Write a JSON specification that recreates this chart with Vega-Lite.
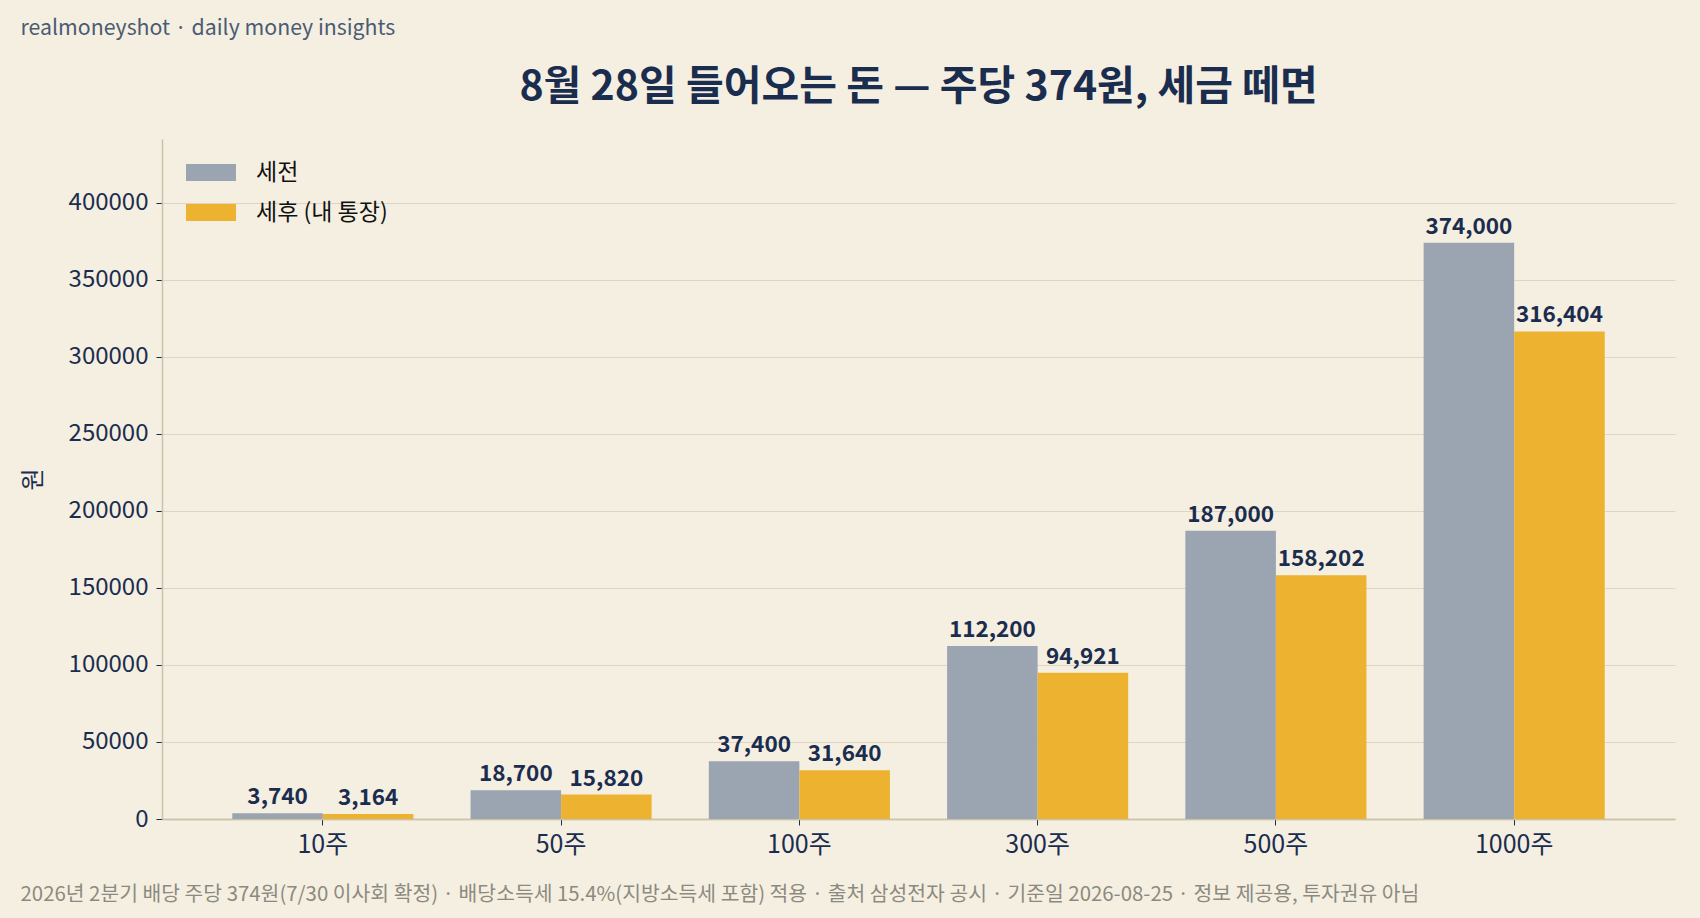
{
  "$schema": "https://vega.github.io/schema/vega-lite/v6.json",
  "autosize": {"type": "none"},
  "width": 1513,
  "height": 680,
  "padding": {"left": 162, "top": 139, "right": 25, "bottom": 99},
  "background": "#f5efe1",
  "config": {"font": "Noto Sans CJK KR", "view": {"stroke": null}},
  "title": {
    "text": "8월 28일 들어오는 돈 — 주당 374원, 세금 떼면",
    "fontSize": 41,
    "fontWeight": "bold",
    "color": "#1b2d4f",
    "anchor": "middle",
    "frame": "group",
    "offset": 0,
    "dy": 92
  },
  "data": {
    "values": [
      {"shares": "10주", "type": "세전", "amount": 3740},
      {"shares": "10주", "type": "세후 (내 통장)", "amount": 3164},
      {"shares": "50주", "type": "세전", "amount": 18700},
      {"shares": "50주", "type": "세후 (내 통장)", "amount": 15820},
      {"shares": "100주", "type": "세전", "amount": 37400},
      {"shares": "100주", "type": "세후 (내 통장)", "amount": 31640},
      {"shares": "300주", "type": "세전", "amount": 112200},
      {"shares": "300주", "type": "세후 (내 통장)", "amount": 94921},
      {"shares": "500주", "type": "세전", "amount": 187000},
      {"shares": "500주", "type": "세후 (내 통장)", "amount": 158202},
      {"shares": "1000주", "type": "세전", "amount": 374000},
      {"shares": "1000주", "type": "세후 (내 통장)", "amount": 316404}
    ]
  },
  "encoding": {
    "y": {
      "field": "amount",
      "type": "quantitative",
      "scale": {"domain": [0, 441320], "nice": false},
      "axis": {
        "title": "원",
        "titleFontSize": 24,
        "titleFontWeight": "normal",
        "titleColor": "#1b2d4f",
        "titleX": -129,
        "titleY": 340,
        "titleAlign": "center",
        "titleBaseline": "middle",
        "values": [0, 50000, 100000, 150000, 200000, 250000, 300000, 350000, 400000],
        "format": "d",
        "labelFontSize": 24,
        "labelColor": "#1b2d4f",
        "labelPadding": 8,
        "tickSize": 6,
        "tickColor": "#1b2d4f",
        "domainColor": "#cbc2ab",
        "domainWidth": 1.5,
        "grid": true,
        "gridColor": {"condition": {"test": "datum.value === 0", "value": "#cbc2ab"}, "value": "#ddd5c1"},
        "gridWidth": {"condition": {"test": "datum.value === 0", "value": 1.5}, "value": 1.2}
      }
    },
    "xOffset": {"field": "type", "type": "nominal", "sort": ["세전", "세후 (내 통장)"]}
  },
  "layer": [
    {
      "mark": {"type": "bar"},
      "encoding": {
        "x": {
          "field": "shares",
          "type": "nominal",
          "sort": ["10주", "50주", "100주", "300주", "500주", "1000주"],
          "scale": {"paddingInner": 0.24, "paddingOuter": 0.295},
          "axis": {
            "title": "2026년 2분기 배당 주당 374원(7/30 이사회 확정) · 배당소득세 15.4%(지방소득세 포함) 적용 · 출처 삼성전자 공시 · 기준일 2026-08-25 · 정보 제공용, 투자권유 아님",
            "titleFontSize": 20.4,
            "titleFontWeight": "normal",
            "titleColor": "#8c8a80",
            "titleAnchor": "start",
            "titleAlign": "left",
            "titleBaseline": "alphabetic",
            "titleX": -142,
            "titleY": 81,
            "labelAngle": 0,
            "labelFontSize": 25,
            "labelColor": "#1b2d4f",
            "labelPadding": 7,
            "tickSize": 6,
            "tickColor": "#1b2d4f",
            "domainColor": "#cbc2ab",
            "domainWidth": 1.5,
            "grid": false
          }
        },
        "color": {
          "field": "type",
          "type": "nominal",
          "scale": {"domain": ["세전", "세후 (내 통장)"], "range": ["#9ba5b1", "#edb230"]},
          "legend": {
            "title": null,
            "orient": "none",
            "legendX": 21,
            "legendY": 22,
            "labelFontSize": 23,
            "labelColor": "#111111",
            "labelOffset": 50,
            "symbolType": "M-1,-1H4.88V1H-1Z",
            "symbolSize": 289,
            "symbolStrokeWidth": 0,
            "symbolOpacity": 1,
            "rowPadding": 16
          }
        }
      }
    },
    {
      "mark": {"type": "text", "fontSize": 22.5, "fontWeight": "bold", "color": "#1b2d4f", "baseline": "bottom", "dy": -4},
      "encoding": {
        "x": {
          "field": "shares",
          "type": "nominal",
          "sort": ["10주", "50주", "100주", "300주", "500주", "1000주"],
          "axis": {
            "orient": "top",
            "labels": false,
            "ticks": false,
            "domain": false,
            "grid": false,
            "title": "realmoneyshot · daily money insights",
            "titleFontSize": 21.3,
            "titleFontWeight": "normal",
            "titleColor": "#4b5b73",
            "titleAnchor": "start",
            "titleAlign": "left",
            "titleBaseline": "alphabetic",
            "titleX": -142,
            "titleY": -105
          }
        },
        "text": {"field": "amount", "type": "quantitative", "format": ","}
      }
    }
  ],
  "resolve": {"axis": {"x": "independent"}}
}
